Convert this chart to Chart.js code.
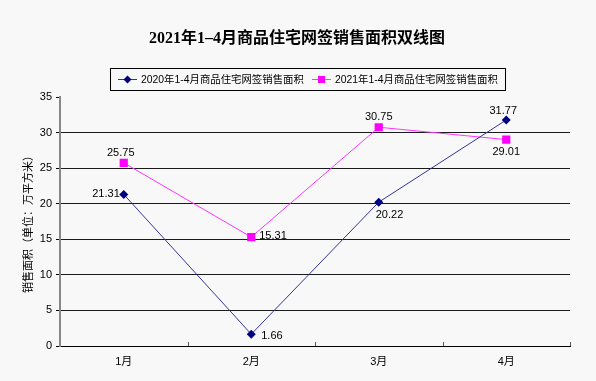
<!DOCTYPE html>
<html>
<head>
<meta charset="utf-8">
<script src="https://cdn.jsdelivr.net/npm/chart.js@4.4.0/dist/chart.umd.min.js"></script>
<style>
  html, body { margin: 0; padding: 0; background: #f8f8f8; }
  #wrap { width: 596px; height: 381px; }
</style>
</head>
<body>
<div id="wrap"><canvas id="chart" width="596" height="381"></canvas></div>
<script>
// chart data
const months = ['1月', '2月', '3月', '4月'];
const area2020 = [21.31, 1.66, 20.22, 31.77];
const area2021 = [25.75, 15.31, 30.75, 29.01];
const seriesNames = ['2020年1-4月商品住宅网签销售面积', '2021年1-4月商品住宅网签销售面积'];
const yTicks = [0, 5, 10, 15, 20, 25, 30, 35];

// value label placement relative to each point: [dx, dy, align]
const labelOffsets = [
    [[-4, 0, 'right'], [10, 2, 'left'], [-3, 13, 'left'], [-3, -9, 'center']],
    [[-3, -10, 'center'], [8, -1, 'left'], [0, -10, 'center'], [0, 12, 'center']]
];

const cjk = '"Liberation Sans", "Noto Sans CJK SC", sans-serif';

// title, legend box, value labels, x-axis boundary ticks
const extras = {
    id: 'extras',
    afterDraw(chart) {
        const ctx = chart.ctx;
        const area = chart.chartArea;
        ctx.save();

        // title
        ctx.fillStyle = '#000';
        ctx.font = 'bold 16px "Liberation Serif", "Noto Sans CJK SC", serif';
        ctx.textAlign = 'center';
        ctx.textBaseline = 'middle';
        ctx.fillText('2021年1\u20134月商品住宅网签销售面积双线图', 297, 39);

        // legend
        ctx.strokeStyle = '#000';
        ctx.lineWidth = 1;
        ctx.strokeRect(110.5, 68.5, 395, 22);
        ctx.font = '10.4px ' + cjk;
        ctx.textAlign = 'left';
        const legendX = [118, 312];
        chart.data.datasets.forEach((ds, i) => {
            const x = legendX[i];
            const y = 79.5;
            ctx.strokeStyle = ds.borderColor;
            ctx.lineWidth = 1;
            ctx.beginPath();
            ctx.moveTo(x, y);
            ctx.lineTo(x + 19, y);
            ctx.stroke();
            ctx.fillStyle = ds.pointBackgroundColor;
            if (i === 0) {
                ctx.beginPath();
                ctx.moveTo(x + 9.5, y - 4);
                ctx.lineTo(x + 13.5, y);
                ctx.lineTo(x + 9.5, y + 4);
                ctx.lineTo(x + 5.5, y);
                ctx.closePath();
                ctx.fill();
            } else {
                ctx.fillRect(x + 6, y - 3.5, 7, 7);
            }
            ctx.fillStyle = '#000';
            ctx.fillText(ds.label, x + 23, y + 1);
        });

        // value labels
        ctx.font = '11px "Liberation Sans", sans-serif';
        ctx.fillStyle = '#000';
        ctx.textBaseline = 'middle';
        chart.data.datasets.forEach((ds, i) => {
            const meta = chart.getDatasetMeta(i);
            meta.data.forEach((pt, j) => {
                const [dx, dy, align] = labelOffsets[i][j];
                ctx.textAlign = align;
                ctx.fillText(ds.data[j].toFixed(2), pt.x + dx, pt.y + dy);
            });
        });

        // small ticks on the x axis between categories
        const xs = chart.scales.x;
        const step = xs.getPixelForValue(1) - xs.getPixelForValue(0);
        ctx.strokeStyle = '#555';
        ctx.lineWidth = 1;
        for (let i = 0; i < months.length; i++) {
            const bx = Math.round(xs.getPixelForValue(i) + step / 2) + 0.5;
            ctx.beginPath();
            ctx.moveTo(bx, area.bottom);
            ctx.lineTo(bx, area.bottom - 4);
            ctx.stroke();
        }
        ctx.restore();
    }
};

new Chart(document.getElementById('chart').getContext('2d'), {
    type: 'line',
    data: {
        labels: months,
        datasets: [{
            label: seriesNames[0],
            data: area2020,
            borderColor: '#33339a',
            borderWidth: 1,
            pointStyle: 'rectRot',
            pointRadius: 4.5,
            pointBackgroundColor: '#000080',
            pointBorderColor: '#000080',
            pointBorderWidth: 0,
            tension: 0
        }, {
            label: seriesNames[1],
            data: area2021,
            borderColor: '#ff33ff',
            borderWidth: 1,
            pointStyle: 'rect',
            pointRadius: 5.8,
            pointBackgroundColor: '#ff00ff',
            pointBorderColor: '#ff00ff',
            pointBorderWidth: 0,
            tension: 0
        }]
    },
    options: {
        responsive: false,
        animation: false,
        layout: { padding: { top: 97, right: 26, left: 0, bottom: 0 } },
        plugins: {
            legend: { display: false },
            title: { display: false },
            tooltip: { enabled: false }
        },
        scales: {
            x: {
                offset: true,
                grid: { display: false, offset: true },
                border: { display: true, color: '#000', width: 1 },
                ticks: { color: '#000', font: { size: 11, family: cjk }, padding: 1 },
                afterFit(s) { s.height = 35; }
            },
            y: {
                min: 0,
                max: 35,
                afterBuildTicks(s) { s.ticks = yTicks.map(v => ({ value: v })); },
                grid: {
                    color: c => (c.tick && c.tick.value === 35) ? 'rgba(0,0,0,0)' : '#1a1a1a',
                    tickColor: '#000',
                    lineWidth: 1,
                    tickLength: 4,
                    drawTicks: true
                },
                border: { display: true, color: '#888', width: 2 },
                ticks: { color: '#000', font: { size: 11, family: cjk }, padding: 4 },
                title: {
                    display: true,
                    text: '销售面积（单位：万平方米）',
                    color: '#000',
                    font: { size: 11, family: cjk },
                    padding: { top: 22, bottom: 0 }
                },
                afterFit(s) { s.width = 60; }
            }
        }
    },
    plugins: [extras]
});
</script>
</body>
</html>
